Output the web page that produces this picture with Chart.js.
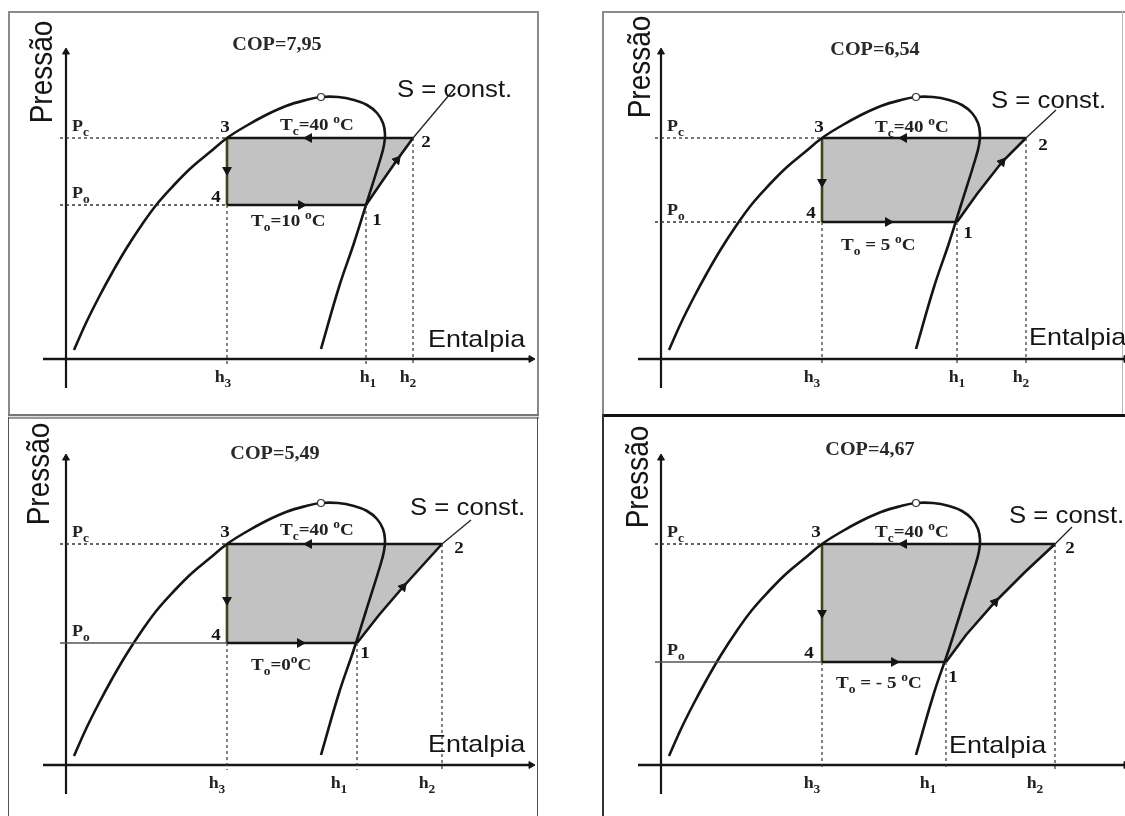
<!DOCTYPE html>
<html>
<head>
<meta charset="utf-8">
<script src="https://cdn.jsdelivr.net/npm/chart.js@4.4.0/dist/chart.umd.min.js"></script>
<style>
  html, body { margin: 0; padding: 0; background: #fff; }
  body { width: 1125px; height: 816px; position: relative; overflow: hidden; }
  canvas { position: absolute; z-index: 1; }
  .ln { position: absolute; z-index: 0; }
</style>
</head>
<body>
<!-- panel frames -->
<div class="ln" style="left:8px;top:11px;width:531px;height:2px;background:#8a8a8a"></div>
<div class="ln" style="left:8px;top:11px;width:2px;height:406px;background:#8a8a8a"></div>
<div class="ln" style="left:537px;top:11px;width:2px;height:406px;background:#8a8a8a"></div>
<div class="ln" style="left:8px;top:414px;width:531px;height:1px;border-top:2px solid #777;border-bottom:2px solid #999;background:#ddd"></div>
<div class="ln" style="left:8px;top:417px;width:1px;height:399px;background:#555"></div>
<div class="ln" style="left:537px;top:417px;width:1px;height:399px;background:#555"></div>
<div class="ln" style="left:602px;top:11px;width:523px;height:2px;background:#8a8a8a"></div>
<div class="ln" style="left:602px;top:11px;width:2px;height:405px;background:#8a8a8a"></div>
<div class="ln" style="left:1122px;top:11px;width:1px;height:405px;background:#bbb"></div>
<div class="ln" style="left:602px;top:414px;width:523px;height:3px;background:#111"></div>
<div class="ln" style="left:602px;top:414px;width:2px;height:402px;background:#333"></div>

<canvas id="c0" width="560" height="410" style="left:0px;top:0px"></canvas>
<canvas id="c1" width="560" height="410" style="left:595px;top:0px"></canvas>
<canvas id="c2" width="560" height="410" style="left:0px;top:406px"></canvas>
<canvas id="c3" width="560" height="410" style="left:595px;top:406px"></canvas>

<script>
// saturation dome, same in the four diagrams (enthalpy, pressure)
const domeH = [8, 20, 33, 46, 60, 75, 91, 108, 126, 144, 161, 180, 200, 220, 240, 255, 272, 288, 301, 311, 317, 319, 318, 315, 300, 288, 273, 255];
const domeP = [9, 36, 62, 86, 110, 133, 155, 174, 192, 207, 221, 233, 244, 253, 259, 262, 262, 259, 254, 246, 236, 225, 214, 202, 154, 116, 72, 10];
const critH = 255;
const critP = 262;

// axis extents
const axisH = [-23, 465];
const axisP = [-29, 307];

// cycle states, one entry per diagram
const copLabels = ['COP=7,95', 'COP=6,54', 'COP=5,49', 'COP=4,67'];
const t0Text = ['=10 ', ' = 5 ', '=0', ' = - 5 '];
const pc = 221;
const p0 = [154, 137, 122, 103];
const h3 = 161;
const h1 = [300, 296, 291, 285];
const h2 = [347, 365, 376, 394];

// compression 1 -> 2 (isentrope) and its continuation
const compH = [[300, 315, 331, 347], [296, 316, 341, 365], [291, 313, 337, 376], [285, 305, 334, 364, 394]];
const compP = [[154, 176, 199, 221], [137, 165, 197, 221], [122, 150, 178, 221], [103, 130, 163, 193, 221]];
const sEndH = [389, 395, 405, 411];
const sEndP = [271, 249, 245, 238];

// arrow marks on the cycle
const arrowTopH = [243, 243, 243, 243];
const arrowBotH = [235, 227, 234, 233];
const arrowDownP = [189, 177, 165, 152];
const arrowCompH = [331, 341, 337, 334];
const arrowCompP = [199, 197, 178, 163];

// label placement (data units)
const place = [
  {pres: [-23, 287], cop: [211, 309], tc: [214, 229], t0: [185, 133], n3: [159, 227], n2: [360, 212], n1: [311, 134], n4: [150, 157], s: [331, 262], ent: [362, 12], hx: [157, 302, 342]},
  {pres: [-20, 292], cop: [214, 304], tc: [214, 227], t0: [180, 109], n3: [158, 227], n2: [382, 209], n1: [307, 121], n4: [150, 141], s: [330, 251], ent: [368, 14], hx: [151, 296, 360]},
  {pres: [-26, 291], cop: [209, 306], tc: [214, 230], t0: [185, 95], n3: [159, 228], n2: [393, 212], n1: [299, 107], n4: [150, 125], s: [344, 250], ent: [362, 13], hx: [151, 273, 361]},
  {pres: [-22, 288], cop: [209, 310], tc: [214, 228], t0: [175, 77], n3: [155, 228], n2: [409, 212], n1: [292, 83], n4: [148, 107], s: [348, 242], ent: [288, 12], hx: [151, 267, 374]}
];
const poDashed = [true, true, false, false];

const STRETCH = 1.12;
const INK = '#151515';

function pts(hs, ps) {
  return hs.map((h, k) => ({x: h, y: ps[k]}));
}

function seg(data, color, width, dash, extra) {
  return Object.assign({
    data: data, showLine: true, borderColor: color, borderWidth: width,
    borderDash: dash || [], pointRadius: 0, tension: 0, fill: false, clip: false, order: 1
  }, extra || {});
}

function txt(ctx, s, x, y, font, align, color) {
  ctx.save();
  ctx.font = font;
  ctx.fillStyle = color || INK;
  ctx.textAlign = align || 'left';
  ctx.textBaseline = 'alphabetic';
  ctx.translate(x, y);
  ctx.scale(STRETCH, 1);
  ctx.fillText(s, 0, 0);
  ctx.restore();
}

function rich(ctx, parts, x, y, size, align) {
  const font = k => 'bold ' + (k ? Math.round(size * 0.72) : size) + 'px "Liberation Serif"';
  let w = 0;
  parts.forEach(([t, k]) => { ctx.font = font(k); w += ctx.measureText(t).width; });
  ctx.save();
  ctx.translate(x, y);
  ctx.scale(STRETCH, 1);
  ctx.fillStyle = '#222';
  ctx.textAlign = 'left';
  ctx.textBaseline = 'alphabetic';
  let cx = align === 'center' ? -w / 2 : 0;
  parts.forEach(([t, k]) => {
    ctx.font = font(k);
    const dy = k === 'sub' ? size * 0.3 : (k === 'sup' ? -size * 0.42 : 0);
    ctx.fillText(t, cx, dy);
    cx += ctx.measureText(t).width;
  });
  ctx.restore();
}

function labelsPlugin(i) {
  return {
    id: 'labels' + i,
    afterDraw(chart) {
      const ctx = chart.ctx;
      const X = v => chart.scales.x.getPixelForValue(v);
      const Y = v => chart.scales.y.getPixelForValue(v);
      const L = place[i];

      // axis titles
      ctx.save();
      ctx.translate(X(L.pres[0]), Y(L.pres[1]));
      ctx.rotate(-Math.PI / 2);
      ctx.scale(1, STRETCH);
      ctx.font = '28px "Liberation Sans"';
      ctx.fillStyle = INK;
      ctx.textAlign = 'center';
      ctx.textBaseline = 'middle';
      ctx.fillText('Pressão', 0, 0);
      ctx.restore();
      txt(ctx, 'Entalpia', X(L.ent[0]), Y(L.ent[1]), '24px "Liberation Sans"');
      txt(ctx, 'S = const.', X(L.s[0]), Y(L.s[1]), '23px "Liberation Sans"');

      // title
      txt(ctx, copLabels[i], X(L.cop[0]), Y(L.cop[1]), 'bold 18px "Liberation Serif"', 'center', '#2a2a2a');

      // pressure levels
      rich(ctx, [['P', ''], ['c', 'sub']], X(6), Y(pc + 7), 16);
      rich(ctx, [['P', ''], ['o', 'sub']], X(6), Y(p0[i] + 7), 16);

      // temperatures
      rich(ctx, [['T', ''], ['c', 'sub'], ['=40 ', ''], ['o', 'sup'], ['C', '']], X(L.tc[0]), Y(L.tc[1]), 17);
      rich(ctx, [['T', ''], ['o', 'sub'], [t0Text[i], ''], ['o', 'sup'], ['C', '']], X(L.t0[0]), Y(L.t0[1]), 17);

      // state numbers
      txt(ctx, '3', X(L.n3[0]), Y(L.n3[1]), 'bold 17px "Liberation Serif"', 'center');
      txt(ctx, '2', X(L.n2[0]), Y(L.n2[1]), 'bold 17px "Liberation Serif"', 'center');
      txt(ctx, '1', X(L.n1[0]), Y(L.n1[1]), 'bold 17px "Liberation Serif"', 'center');
      txt(ctx, '4', X(L.n4[0]), Y(L.n4[1]), 'bold 17px "Liberation Serif"', 'center');

      // enthalpy marks
      rich(ctx, [['h', ''], ['3', 'sub']], X(L.hx[0]), Y(-23), 16, 'center');
      rich(ctx, [['h', ''], ['1', 'sub']], X(L.hx[1]), Y(-23), 16, 'center');
      rich(ctx, [['h', ''], ['2', 'sub']], X(L.hx[2]), Y(-23), 16, 'center');
    }
  };
}

function buildPanel(i) {
  const comp = pts(compH[i], compP[i]);
  const shape = [{x: h3, y: pc}, {x: h2[i], y: pc}].concat(comp.slice().reverse(), [{x: h3, y: p0[i]}]);

  const datasets = [
    // refrigerating effect + compression work area
    seg(shape, 'rgba(0,0,0,0)', 0, null, {fill: 'shape', backgroundColor: '#c2c2c2', order: 20}),

    // construction lines
    seg([{x: -6, y: pc}, {x: h3, y: pc}], '#333', 1.3, [3, 3]),
    poDashed[i]
      ? seg([{x: -6, y: p0[i]}, {x: h3, y: p0[i]}], '#333', 1.3, [3, 3])
      : seg([{x: -6, y: p0[i]}, {x: h3, y: p0[i]}], '#555', 1.6),
    seg([{x: h3, y: p0[i]}, {x: h3, y: -5}], '#333', 1.2, [3, 3]),
    seg([{x: h1[i], y: p0[i]}, {x: h1[i], y: -5}], '#333', 1.2, [3, 3]),
    seg([{x: h2[i], y: pc}, {x: h2[i], y: -5}], '#333', 1.2, [3, 3]),
    seg([{x: h2[i], y: pc}, {x: sEndH[i], y: sEndP[i]}], '#222', 1.3),

    // saturation dome
    seg(pts(domeH, domeP), INK, 2.6, null, {tension: 0.4}),

    // cycle
    seg([{x: h3, y: pc}, {x: h2[i], y: pc}], INK, 2.6),
    seg([{x: h3, y: p0[i]}, {x: h1[i], y: p0[i]}], INK, 2.6),
    seg(comp, INK, 2.6),
    seg([{x: h3, y: pc}, {x: h3, y: p0[i]}], '#3d4519', 2.6),

    // axes
    seg([{x: axisH[0], y: 0}, {x: axisH[1], y: 0}], INK, 2.6),
    seg([{x: 0, y: axisP[0]}, {x: 0, y: axisP[1]}], INK, 2.2),

    // arrow heads
    {
      data: [
        {x: axisH[1], y: 0}, {x: 0, y: axisP[1]},
        {x: arrowTopH[i], y: pc}, {x: arrowBotH[i], y: p0[i]},
        {x: h3, y: arrowDownP[i]}, {x: arrowCompH[i], y: arrowCompP[i]}
      ],
      showLine: false, clip: false, order: 0,
      pointStyle: 'triangle',
      pointRadius: [4, 4, 5, 5, 5, 5],
      pointRotation: [90, 0, 270, 90, 180, 40],
      pointBackgroundColor: INK, pointBorderColor: INK, pointBorderWidth: 1
    },

    // critical point
    {
      data: [{x: critH, y: critP}], showLine: false, clip: false, order: 0,
      pointStyle: 'circle', pointRadius: 3.5,
      pointBackgroundColor: '#fff', pointBorderColor: '#333', pointBorderWidth: 1.2
    }
  ];

  new Chart(document.getElementById('c' + i), {
    type: 'scatter',
    data: {datasets: datasets},
    options: {
      responsive: false,
      animation: false,
      layout: {padding: {left: 43, right: 29, top: 52, bottom: 22}},
      plugins: {legend: {display: false}, tooltip: {enabled: false}},
      scales: {
        x: {type: 'linear', display: false, min: axisH[0], max: axisH[1]},
        y: {type: 'linear', display: false, min: axisP[0], max: axisP[1]}
      }
    },
    plugins: [labelsPlugin(i)]
  });
}

[0, 1, 2, 3].forEach(buildPanel);
</script>
</body>
</html>
